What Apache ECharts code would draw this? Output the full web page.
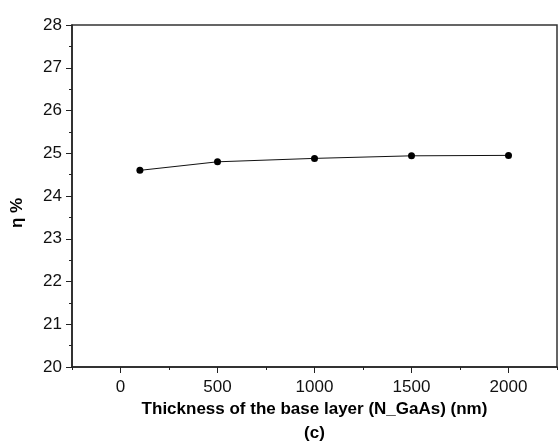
<!DOCTYPE html>
<html>
<head>
<meta charset="utf-8">
<script src="https://cdn.jsdelivr.net/npm/echarts@6/dist/echarts.min.js"></script>
<style>html,body{margin:0;padding:0;background:#fff;}#c{width:559px;height:443px;}</style>
</head>
<body>
<div id="c"></div>
<script>
var thickness = [100, 500, 1000, 1500, 2000];
var efficiency = [24.60, 24.80, 24.88, 24.94, 24.95];
var xMajorTicks = [0, 500, 1000, 1500, 2000];
var xMinorTicks = [-250, 250, 750, 1250, 1750, 2250];
var xTitle = 'Thickness of the base layer (N_GaAs) (nm)';
var subLabel = '(c)';
var yTitle = 'η %';

var chart = echarts.init(document.getElementById('c'), null, {renderer: 'canvas'});
var font = 'Liberation Sans, Arial, sans-serif';
var axisColor = '#222';
chart.setOption({
  animation: false,
  backgroundColor: '#fff',
  grid: {left: 72, right: 2, top: 25, bottom: 76, outerBoundsMode: 'none', containLabel: false,
    show: true, borderColor: '#333', borderWidth: 1.5},
  xAxis: [{
    type: 'value', min: -250, max: 2250,
    axisLine: {show: true, onZero: false, lineStyle: {color: axisColor, width: 1.5}},
    axisTick: {show: true, inside: false, length: 6, customValues: xMajorTicks, lineStyle: {color: axisColor, width: 1}},
    axisLabel: {show: true, customValues: xMajorTicks, formatter: function (v) { return String(v); },
      fontFamily: font, fontSize: 17, color: '#111', margin: 12},
    splitLine: {show: false},
    name: xTitle + '\n' + subLabel, nameLocation: 'middle', nameGap: 30, nameMoveOverlap: false,
    nameTextStyle: {fontFamily: font, fontSize: 17, fontWeight: 'bold', color: '#000', lineHeight: 24,
      verticalAlign: 'top'}
  }, {
    type: 'value', min: -250, max: 2250, position: 'bottom',
    axisLine: {show: false},
    axisTick: {show: true, length: 3, customValues: xMinorTicks, lineStyle: {color: axisColor, width: 1}},
    axisLabel: {show: false}, splitLine: {show: false}
  }],
  yAxis: {
    type: 'value', min: 20, max: 28, interval: 1,
    axisLine: {show: true, onZero: false, lineStyle: {color: axisColor, width: 1.5}},
    axisTick: {show: true, length: 6, lineStyle: {color: axisColor, width: 1}},
    minorTick: {show: true, splitNumber: 2, length: 3, lineStyle: {color: axisColor, width: 1}},
    axisLabel: {fontFamily: font, fontSize: 17, color: '#111', margin: 10},
    splitLine: {show: false},
    name: yTitle, nameLocation: 'middle', nameGap: 46, nameMoveOverlap: false,
    nameTextStyle: {fontFamily: font, fontSize: 17, fontWeight: 'bold', color: '#000', padding: [0, 34, 0, 0]}
  },
  series: [{
    type: 'line', xAxisIndex: 0,
    data: thickness.map(function (t, i) { return [t, efficiency[i]]; }),
    symbol: 'circle', symbolSize: 7,
    lineStyle: {color: '#111', width: 1},
    itemStyle: {color: '#000'}
  }]
});
</script>
</body>
</html>
